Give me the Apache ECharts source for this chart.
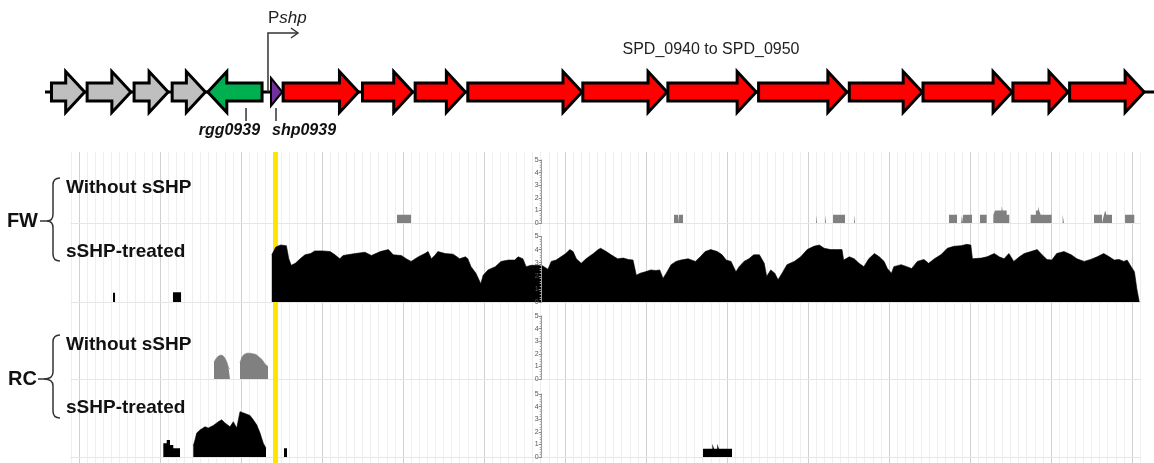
<!DOCTYPE html>
<html><head><meta charset="utf-8">
<script src="https://cdn.jsdelivr.net/npm/echarts@6/dist/echarts.min.js"></script>
<style>html,body{margin:0;padding:0;background:#fff}#c{width:1154px;height:463px}</style>
</head><body><div id="c"></div>
<script>
// ---------------- DATA (genome positions in bp, coverage in arbitrary units 0-5) ----------------
const geneStart  = [-340, 100, 680, 1150, 1590, 2370, 2520, 3500, 4150, 4800, 6220, 7270, 8390, 9510, 10420, 11530, 12230];
const geneEnd    = [70, 640, 1100, 1560, 2260, 2510, 3450, 4120, 4770, 6210, 7260, 8360, 9480, 10410, 11520, 12210, 13150];
const geneStrand = [1, 1, 1, 1, -1, 1, 1, 1, 1, 1, 1, 1, 1, 1, 1, 1, 1];
const geneType   = ['flank','flank','flank','flank','regulator','peptide','operon','operon','operon','operon','operon','operon','operon','operon','operon','operon','operon'];
const geneLabelText = ['rgg0939', 'shp0939'];
const geneLabelPos  = [2062, 2432];
const promoterPos = 2333;
const promoterName = ['P', 'shp'];
const operonLabel = 'SPD_0940 to SPD_0950';
const highlightRegion = [2395, 2457];
const trackGroups = ['FW', 'RC'];
const trackNames = ['Without sSHP', 'sSHP-treated'];
const axisTicks = [0, 1, 2, 3, 4, 5];

// FW, without sSHP: step breakpoints [pos, value held until next pos]
const fwWithout = [[3926,0.65],[4099,0],[7346,0.65],[7395,0],[7407,0.65],[7457,0],[9099,0.65],[9111,0],
  [9210,0.65],[9222,0],[9309,0.65],[9457,0],[9568,0.65],[9580,0],[10741,0.65],[10840,0],[10889,0.65],[10901,0],
  [10917,0.65],[11025,0],[11123,0.65],[11206,0],[11288,0.65],[11309,1.0],[11390,1.35],[11403,1.0],[11453,0.65],[11485,0],
  [11749,0.65],[11815,1.0],[11840,1.3],[11853,1.0],[11873,0.65],[12008,0],[12144,0.65],[12160,0],
  [12531,0.65],[12630,0],[12654,0.65],[12670,1.0],[12683,0.65],[12753,0],[12914,0.65],[13028,0]];

// FW, sSHP-treated: small reads upstream (step) and main coverage profile
const fwTreatedBlocks = [[420,0.7],[445,0],[1160,0.75],[1260,0]];
const fwTreated = [[2380,3.6],[2430,4.2],[2490,4.35],[2560,4.3],[2590,3.3],[2620,2.8],[2670,2.95],[2730,3.3],[2790,3.6],
  [2860,3.7],[2910,3.9],[3010,3.9],[3100,3.85],[3160,3.6],[3220,3.3],[3260,3.55],[3410,3.7],[3530,3.8],[3610,3.55],
  [3720,3.85],[3820,4.0],[3880,3.6],[3980,3.55],[4040,3.3],[4100,3.1],[4190,3.45],[4270,3.7],[4310,3.85],[4350,3.3],
  [4400,3.6],[4430,3.85],[4520,3.7],[4620,3.65],[4700,3.3],[4770,3.45],[4800,3.3],[4840,2.7],[4900,2.2],[4960,1.4],
  [4990,2.05],[5050,2.45],[5140,2.7],[5210,3.1],[5300,3.2],[5380,3.2],[5420,3.45],[5480,3.3],[5520,2.7],[5580,2.8],
  [5670,2.8],[5700,2.85],[5790,2.5],[5830,3.1],[5890,3.2],[5950,3.45],[6010,3.7],[6060,4.0],[6100,3.85],[6140,3.3],
  [6200,2.95],[6260,3.3],[6350,3.7],[6410,4.0],[6440,4.1],[6510,3.85],[6570,3.6],[6650,3.3],[6720,3.35],[6780,3.25],
  [6840,3.2],[6880,2.05],[6930,2.2],[6990,2.3],[7060,2.45],[7120,2.4],[7170,2.45],[7210,1.8],[7250,2.2],[7310,2.85],
  [7370,3.1],[7430,3.2],[7520,3.3],[7610,3.1],[7670,3.45],[7730,3.85],[7800,4.0],[7880,3.85],[7940,3.6],[7990,3.2],
  [8050,3.1],[8110,2.3],[8150,2.7],[8210,3.1],[8270,3.3],[8330,3.6],[8400,3.6],[8460,2.95],[8490,1.95],[8540,2.45],
  [8590,2.2],[8630,1.7],[8680,2.2],[8740,2.85],[8830,3.1],[8910,3.45],[8990,4.0],[9070,4.25],[9140,4.35],[9200,4.1],
  [9280,4.0],[9360,4.0],[9420,4.0],[9440,3.2],[9510,3.45],[9570,3.3],[9630,2.95],[9690,2.7],[9750,3.3],[9820,3.7],
  [9880,3.45],[9940,3.1],[9980,2.55],[10030,2.2],[10060,2.7],[10150,2.85],[10220,2.7],[10280,2.55],[10350,3.1],
  [10430,3.25],[10490,2.95],[10560,3.3],[10640,3.6],[10720,4.1],[10800,4.25],[10890,4.3],[10960,4.4],[11010,4.35],
  [11030,3.3],[11140,3.35],[11210,3.45],[11300,3.7],[11360,3.45],[11420,3.3],[11480,3.7],[11540,3.1],[11610,3.45],
  [11670,3.7],[11750,3.85],[11830,4.0],[11890,3.6],[11950,3.25],[12010,3.2],[12070,3.7],[12160,3.85],[12250,3.6],
  [12320,3.3],[12410,3.1],[12490,3.25],[12570,3.45],[12650,3.7],[12720,3.45],[12780,3.2],[12840,3.25],[12900,3.1],
  [12940,3.2],[12990,2.7],[13030,2.3],[13060,1.0],[13090,0]];

// RC, without sSHP: two coverage humps
const rcWithoutA = [[1667,1.35],[1691,1.6],[1716,1.8],[1753,1.9],[1778,1.85],[1802,1.65],[1827,1.3],[1846,0.9],[1864,0.8]];
const rcWithoutB = [[1988,1.3],[2012,1.75],[2037,1.95],[2074,2.05],[2111,2.05],[2148,2.0],[2185,1.95],[2222,1.75],
  [2259,1.55],[2296,1.2],[2333,1.0]];

// RC, sSHP-treated
const rcTreatedHump = [[1411,0.9],[1432,1.35],[1453,1.9],[1494,2.15],[1556,2.4],[1596,2.3],[1658,2.5],[1720,2.8],
  [1762,2.95],[1802,2.7],[1864,2.4],[1905,2.8],[1947,2.3],[1988,3.6],[2049,3.45],[2111,3.3],[2152,2.95],[2194,2.55],
  [2235,1.9],[2275,1.1],[2309,0.7]];
const rcTreatedBlocks = [[1041,1.1],[1083,1.35],[1123,0.95],[1164,0.7],[1247,0],[2531,0.7],[2568,0],
  [7704,0.65],[7820,1.05],[7840,0.65],[7880,1.05],[7900,0.65],[8062,0]];

// ---------------- STYLE / LAYOUT ----------------
const FONT = '"Liberation Sans", Arial, Helvetica, sans-serif';
const GENE_COLORS = { flank: '#bfbfbf', regulator: '#00b050', peptide: '#7030a0', operon: '#ff0000' };
const GRAY = '#808080';
const X_MIN = -100, X_MAX = 13100;
const L = 70.9, R = 1154 - 1140.1;
const AXIS_X = 541.7;
const tracksTop = [160, 236.5, 316, 394];
const tracksH = [63, 65.5, 63, 63];
const borderOffset = [8, 0, 1, 2];

const minorC = '#efefef', majorC = '#d0d0d0';
const splitColors = [minorC, majorC, minorC, minorC, minorC, minorC, minorC, minorC, minorC, minorC];

const grids = [
  { left: L, right: R, top: 152, bottom: 0 },
  { left: 45, right: 0, top: 70, height: 44 }
];
tracksTop.forEach((t, i) => grids.push({ left: L, right: R, top: t, height: tracksH[i] }));
grids.forEach(g => { g.containLabel = false; g.outerBoundsMode = 'none'; });

const xAxes = [
  { gridIndex: 0, type: 'value', min: X_MIN, max: X_MAX, interval: 100,
    axisLine: { show: false }, axisTick: { show: false }, axisLabel: { show: false },
    splitLine: { show: true, lineStyle: { color: splitColors, width: 1 } } },
  { gridIndex: 1, type: 'value', min: -420, max: 13272, show: false }
];
const yAxes = [
  { gridIndex: 0, type: 'value', min: 0, max: 1, show: false },
  { gridIndex: 1, type: 'value', min: -1, max: 1, show: false }
];
tracksTop.forEach((t, i) => {
  xAxes.push({ gridIndex: i + 2, type: 'value', min: X_MIN, max: X_MAX, position: 'top', offset: borderOffset[i],
    axisLine: { show: true, lineStyle: { color: '#e6e6e6', width: 1 } }, axisTick: { show: false },
    axisLabel: { show: false }, splitLine: { show: false } });
  yAxes.push({ gridIndex: i + 2, type: 'value', min: axisTicks[0], max: axisTicks[axisTicks.length - 1], interval: 1,
    position: 'left', offset: -(AXIS_X - L), z: 10,
    axisLine: { show: true, lineStyle: { color: '#9a9a9a', width: 1 } },
    axisTick: { show: true, length: 3, lineStyle: { color: '#8a8a8a' } },
    minorTick: { show: true, splitNumber: 5, length: 2, lineStyle: { color: '#aaaaaa' } },
    axisLabel: { show: true, fontSize: 7, color: '#555', margin: 3, fontFamily: FONT },
    splitLine: { show: false } });
});

function stepSeries(data, xi, color) {
  return { type: 'line', xAxisIndex: xi, yAxisIndex: xi, data: data, step: 'end', symbol: 'none',
    lineStyle: { width: 0, color: color }, areaStyle: { color: color, opacity: 1 }, z: 3, silent: true, animation: false };
}
function areaSeries(data, xi, color) {
  return { type: 'line', xAxisIndex: xi, yAxisIndex: xi, data: data, symbol: 'none',
    lineStyle: { width: 0.6, color: color }, areaStyle: { color: color, opacity: 1 }, z: 3, silent: true, animation: false };
}

const series = [
  { type: 'custom', xAxisIndex: 0, yAxisIndex: 0, z: 1, silent: true, animation: false,
    data: [[highlightRegion[0], highlightRegion[1]]],
    renderItem: (p, api) => {
      const a = api.coord([api.value(0), 1]), b = api.coord([api.value(1), 0]);
      return { type: 'rect', shape: { x: a[0], y: a[1], width: b[0] - a[0], height: b[1] - a[1] }, style: { fill: '#ffe600' } };
    } },
  { type: 'line', xAxisIndex: 1, yAxisIndex: 1, data: [[-420, 0], [13272, 0]], symbol: 'none', z: 1, silent: true,
    lineStyle: { color: '#000', width: 3 }, animation: false },
  { type: 'custom', xAxisIndex: 1, yAxisIndex: 1, z: 2, silent: true, animation: false,
    data: geneStart.map((s, i) => [s, geneEnd[i], geneStrand[i]]),
    renderItem: (p, api) => {
      const i = p.dataIndex;
      const a = api.coord([api.value(0), 0]), b = api.coord([api.value(1), 0]);
      const yc = a[1], x0 = a[0], x1 = b[0], strand = api.value(2);
      let pts;
      if (geneType[i] === 'peptide') {
        pts = [[x0, yc - 14], [x1, yc], [x0, yc + 14]];
      } else {
        const hl = Math.min(19, (x1 - x0) * 0.6), bh = 9, hh = 20.5;
        if (strand > 0) pts = [[x0, yc - bh], [x1 - hl, yc - bh], [x1 - hl, yc - hh], [x1, yc], [x1 - hl, yc + hh], [x1 - hl, yc + bh], [x0, yc + bh]];
        else pts = [[x1, yc - bh], [x0 + hl, yc - bh], [x0 + hl, yc - hh], [x0, yc], [x0 + hl, yc + hh], [x0 + hl, yc + bh], [x1, yc + bh]];
      }
      return { type: 'polygon', shape: { points: pts },
        style: { fill: GENE_COLORS[geneType[i]], stroke: '#000', lineWidth: geneType[i] === 'peptide' ? 2 : 3, lineJoin: 'miter', miterLimit: 10 } };
    } },
  { type: 'custom', xAxisIndex: 1, yAxisIndex: 1, z: 2, silent: true, animation: false,
    data: geneLabelPos.map((p, i) => [p, i]),
    renderItem: (p, api) => {
      const i = p.dataIndex;
      const c = api.coord([api.value(0), 0]);
      const left = i === 1;
      return { type: 'group', children: [
        { type: 'line', shape: { x1: c[0], y1: c[1] + 16, x2: c[0], y2: c[1] + 29 }, style: { stroke: '#333', lineWidth: 1.5 } },
        { type: 'text', x: left ? c[0] - 4 : c[0] + 14, y: c[1] + 39,
          style: { text: geneLabelText[i], textAlign: left ? 'left' : 'right', textVerticalAlign: 'middle',
            font: 'italic bold 16px ' + FONT, fill: '#111' } }
      ] };
    } },
  { type: 'custom', xAxisIndex: 1, yAxisIndex: 1, z: 2, silent: true, animation: false,
    data: [[promoterPos, 0]],
    renderItem: (p, api) => {
      const c = api.coord([api.value(0), 0]);
      const x = c[0], yb = c[1], yt = yb - 59, xe = x + 30;
      return { type: 'group', children: [
        { type: 'polyline', shape: { points: [[x, yb], [x, yt], [xe, yt]] }, style: { stroke: '#333', lineWidth: 1.5, fill: null } },
        { type: 'polyline', shape: { points: [[xe - 7, yt - 5], [xe, yt], [xe - 7, yt + 5]] }, style: { stroke: '#333', lineWidth: 1.5, fill: null } },
        { type: 'text', x: x, y: yt - 15,
          style: { text: '{a|' + promoterName[0] + '}{b|' + promoterName[1] + '}', textAlign: 'left', textVerticalAlign: 'middle',
            rich: { a: { font: '17px ' + FONT, fill: '#222' }, b: { font: 'italic 17px ' + FONT, fill: '#222' } } } }
      ] };
    } },
  stepSeries(fwWithout, 2, GRAY),
  stepSeries(fwTreatedBlocks, 3, '#000'),
  areaSeries(fwTreated, 3, '#000'),
  areaSeries(rcWithoutA, 4, GRAY),
  areaSeries(rcWithoutB, 4, GRAY),
  areaSeries(rcTreatedHump, 5, '#000'),
  stepSeries(rcTreatedBlocks, 5, '#000')
];

function brace(yTop, yTip, yBot, xTip, xDash) {
  const xv = 53, xe = 60, r = 7;
  const st = { stroke: '#333', lineWidth: 1.5, fill: null };
  const curve = (x1, y1, cx, cy, x2, y2) => ({ type: 'bezierCurve', z: 100, shape: { x1: x1, y1: y1, cpx1: cx, cpy1: cy, x2: x2, y2: y2 }, style: st });
  const line = (x1, y1, x2, y2) => ({ type: 'line', z: 100, shape: { x1: x1, y1: y1, x2: x2, y2: y2 }, style: st });
  return { type: 'group', z: 100, children: [
    curve(xe, yTop, xv, yTop, xv, yTop + r),
    line(xv, yTop + r, xv, yTip - r),
    curve(xv, yTip - r, xv, yTip, xTip, yTip),
    curve(xTip, yTip, xv, yTip, xv, yTip + r),
    line(xv, yTip + r, xv, yBot - r),
    curve(xv, yBot - r, xv, yBot, xe, yBot),
    line(xDash, yTip, xTip, yTip)
  ] };
}
function txt(text, x, y, size, align) {
  return { type: 'text', z: 100, x: x, y: y, style: { text: text, font: 'bold ' + size + 'px ' + FONT, fill: '#111',
    textAlign: align, textVerticalAlign: 'middle' } };
}

const graphic = [
  { type: 'text', z: 100, x: 711, y: 50, style: { text: operonLabel, font: '16px ' + FONT, fill: '#222', textAlign: 'center', textVerticalAlign: 'middle' } },
  txt(trackGroups[0], 38, 221, 20, 'right'),
  txt(trackNames[0], 66, 188, 19, 'left'),
  txt(trackNames[1], 66, 252, 19, 'left'),
  brace(178, 221, 261, 47, 40),
  txt(trackGroups[1], 37, 379, 20, 'right'),
  txt(trackNames[0], 66, 345, 19, 'left'),
  txt(trackNames[1], 66, 408, 19, 'left'),
  brace(335, 379, 418, 44, 38)
];

const chart = echarts.init(document.getElementById('c'), null, { renderer: 'canvas' });
chart.setOption({ animation: false, backgroundColor: '#fff', grid: grids, xAxis: xAxes, yAxis: yAxes, series: series, graphic: graphic });
</script></body></html>
